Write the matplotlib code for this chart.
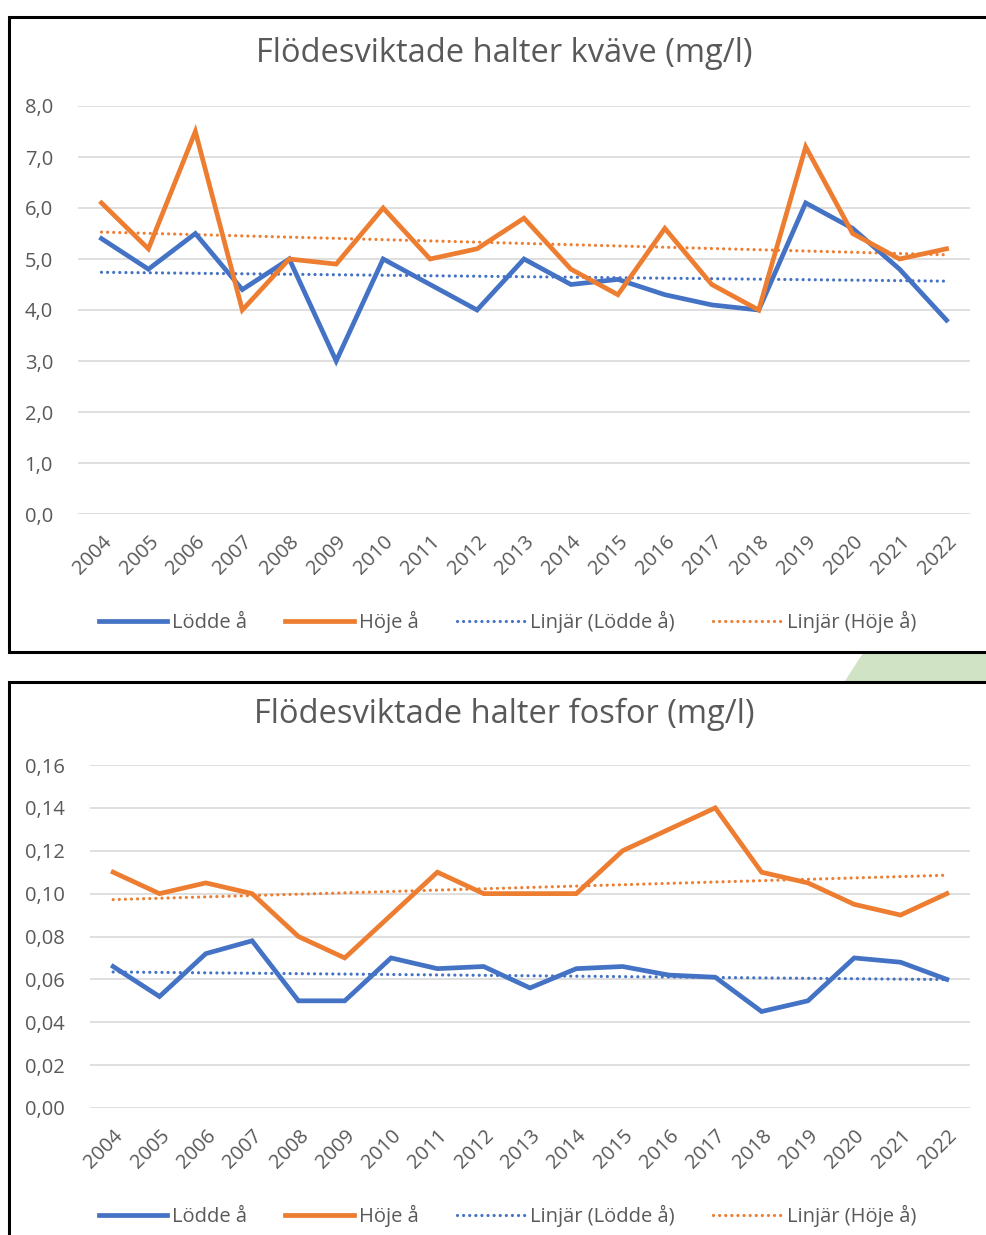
import matplotlib
matplotlib.use("Agg")
import matplotlib.pyplot as plt
import numpy as np
from matplotlib.patches import Rectangle, Polygon

plt.rcParams['font.family'] = ['Open Sans', 'DejaVu Sans']

years = [str(y) for y in range(2004, 2023)]

# kväve (mg/l)
lodde_n = [5.4, 4.8, 5.5, 4.4, 5.0, 3.0, 5.0, 4.5, 4.0, 5.0, 4.5, 4.6, 4.3, 4.1, 4.0, 6.1, 5.6, 4.8, 3.8]
hoje_n = [6.1, 5.2, 7.5, 4.0, 5.0, 4.9, 6.0, 5.0, 5.2, 5.8, 4.8, 4.3, 5.6, 4.5, 4.0, 7.2, 5.5, 5.0, 5.2]

# fosfor (mg/l)
lodde_p = [0.066, 0.052, 0.072, 0.078, 0.050, 0.050, 0.070, 0.065, 0.066, 0.056,
           0.065, 0.066, 0.062, 0.061, 0.045, 0.050, 0.070, 0.068, 0.060]
hoje_p = [0.110, 0.100, 0.105, 0.100, 0.080, 0.070, 0.090, 0.110, 0.100, 0.100,
          0.100, 0.120, 0.130, 0.140, 0.110, 0.105, 0.095, 0.090, 0.100]

BLUE = '#4472C4'
ORANGE = '#ED7D31'
GREY = '#595959'
DOTS = (0, (0.01, 1.9))

W, H = 987, 1235
fig = plt.figure(figsize=(W / 100, H / 100), dpi=100)


def fx(px):
    return px / W


def fy(py):
    return 1 - py / H


# decorative green strip between the panels
fig.patches.append(Polygon([[fx(845), fy(681)], [fx(863), fy(653)], [fx(990), fy(653)], [fx(990), fy(681)]],
                           closed=True, transform=fig.transFigure, facecolor='#D0E3C4',
                           edgecolor='none', zorder=-6))
# panel borders
fig.patches.append(Rectangle((fx(9), fy(652)), fx(990), fy(17) - fy(652), transform=fig.transFigure,
                             facecolor='white', edgecolor='black', lw=2.2, zorder=-5))
fig.patches.append(Rectangle((fx(9), fy(1245)), fx(990), fy(682) - fy(1245), transform=fig.transFigure,
                             facecolor='white', edgecolor='black', lw=2.2, zorder=-5))


def panel(left, right, top, bottom, lodde, hoje, ymax, ystep, fmt, title, title_y, legend_y):
    ax = fig.add_axes([fx(left), fy(bottom), fx(right - left), fy(top) - fy(bottom)])
    ax.set_facecolor('none')
    x = np.arange(len(years))
    l1, = ax.plot(x, lodde, color=BLUE, lw=3.4, solid_joinstyle='miter', label='Lödde å', zorder=3)
    l2, = ax.plot(x, hoje, color=ORANGE, lw=3.4, solid_joinstyle='miter', label='Höje å', zorder=3)
    c1 = np.polyfit(x, lodde, 1)
    c2 = np.polyfit(x, hoje, 1)
    t1, = ax.plot(x, np.polyval(c1, x), color=BLUE, lw=2.3, ls=DOTS,
                  dash_capstyle='round', label='Linjär (Lödde å)', zorder=2)
    t2, = ax.plot(x, np.polyval(c2, x), color=ORANGE, lw=2.3, ls=DOTS,
                  dash_capstyle='round', label='Linjär (Höje å)', zorder=2)
    ax.set_xlim(-0.5, len(years) - 0.5)
    ax.set_ylim(0, ymax)
    ticks = np.arange(0, ymax + ystep / 2, ystep)
    ax.set_yticks(ticks)
    ax.set_yticklabels([fmt.format(t).replace('.', ',') for t in ticks])
    ax.set_xticks(x)
    ax.set_xticklabels(years, rotation=45, ha='right', va='top', rotation_mode='anchor')
    for s in ax.spines.values():
        s.set_visible(False)
    ax.grid(axis='y', color='#D9D9D9', lw=1.2)
    ax.set_axisbelow(True)
    ax.tick_params(axis='both', length=0, labelsize=14.5, labelcolor=GREY)
    ax.tick_params(axis='y', pad=18)
    ax.tick_params(axis='x', pad=13)
    fig.text(0.511, fy(title_y), title, ha='center', va='center', fontsize=23.5, color=GREY)
    fig.legend(handles=[l1, l2, t1, t2], loc='center', bbox_to_anchor=(0.514, fy(legend_y)),
               ncol=4, frameon=False, fontsize=14.5, handlelength=3.4, handletextpad=0.25,
               columnspacing=1.9, labelcolor=GREY)
    return ax


panel(78, 970, 106, 514, lodde_n, hoje_n, 8.0, 1.0, '{:.1f}',
      'Flödesviktade halter kväve (mg/l)', 54, 622)
panel(90, 970, 765, 1108, lodde_p, hoje_p, 0.16, 0.02, '{:.2f}',
      'Flödesviktade halter fosfor (mg/l)', 714, 1216)

fig.savefig('out.png', dpi=100)
